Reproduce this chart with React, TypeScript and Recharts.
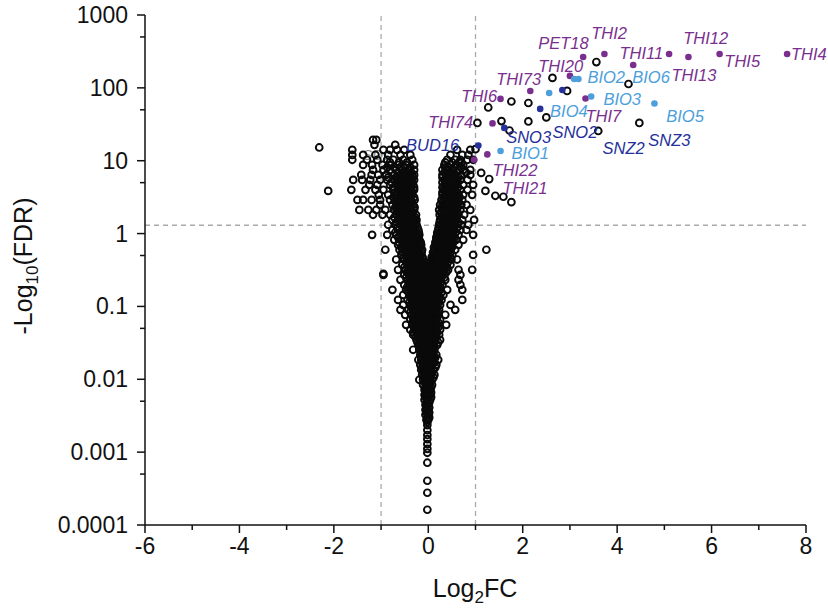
import React from 'react';
import { ScatterChart, Scatter, XAxis, YAxis, ReferenceLine } from 'recharts';

const PURPLE = '#7a2f8f';
const LIGHT = '#4d9fdc';
const NAVY = '#25309b';
const FONT = '"Liberation Sans", Arial, sans-serif';

const xTicks = [-6, -5, -4, -3, -2, -1, 0, 1, 2, 3, 4, 5, 6, 7, 8];
const yMajor = [0.0001, 0.001, 0.01, 0.1, 1, 10, 100, 1000];
const yMajorLabels = ['0.0001', '0.001', '0.01', '0.1', '1', '10', '100', '1000'];
const yMinor = [0.0005, 0.005, 0.05, 0.5, 5, 50, 500];

// bulk of genes: each row is [FDR level, log2FC values at that level]
const cloudRows: [number, number[]][] = [
  [19.3, [-1.17, -1.1]],
  [16.5, [-1.14, -0.7]],
  [14.1, [-1.61, -0.95, -0.81, -0.66, -0.51, 0.61, 0.89]],
  [12.0, [-1.61, -1.38, -1.12, -0.85, -0.59, -0.38, 0.47, 0.72, 0.85]],
  [10.3, [-1.61, -1.3, -1.08, -0.87, -0.74, -0.53, -0.34, 0.4, 0.57, 0.68, 0.83, 0.95]],
  [8.76, [-1.38, -1.19, -0.97, -0.81, -0.64, -0.47, -0.3, 0.34, 0.47, 0.59, 0.74]],
  [7.48, [-1.17, -0.95, -0.81, -0.68, -0.55, -0.42, -0.3, 0.3, 0.42, 0.53, 0.64, 0.74, 0.89]],
  [6.39, [-1.42, -1.2, -1.06, -0.89, -0.72, -0.59, -0.49, -0.38, -0.3, 0.3, 0.38, 0.47, 0.57, 0.7, 0.89]],
  [5.45, [-1.59, -1.4, -1.23, -1.02, -0.87, -0.72, -0.64, -0.55, -0.47, -0.38, -0.3, 0.34, 0.42, 0.51, 0.59, 0.68, 0.83]],
  [4.66, [-1.25, -1.08, -0.81, -0.66, -0.57, -0.49, -0.4, -0.32, 0.34, 0.42, 0.51, 0.61, 0.74, 0.95]],
  [3.98, [-1.63, -1.33, -1.12, -0.95, -0.74, -0.64, -0.55, -0.47, -0.38, -0.3, 0.32, 0.4, 0.49, 0.57, 0.68, 0.83]],
  [3.4, [-1.05, -0.85, -0.68, -0.59, -0.51, -0.42, -0.34, 0.3, 0.38, 0.47, 0.55, 0.64, 0.74, 0.93]],
  [2.9, [-1.5, -1.38, -1.2, -1.02, -0.81, -0.7, -0.61, -0.53, -0.44, -0.36, -0.29, 0.28, 0.36, 0.44, 0.53, 0.61, 0.72]],
  [2.48, [-1.02, -0.76, -0.66, -0.57, -0.49, -0.4, -0.32, 0.25, 0.34, 0.42, 0.51, 0.59, 0.7, 0.81]],
  [2.11, [-1.46, -1.27, -1.1, -0.91, -0.72, -0.64, -0.55, -0.47, -0.38, -0.3, 0.23, 0.32, 0.4, 0.49, 0.57, 0.68, 0.89]],
  [1.81, [-1.17, -0.97, -0.81, -0.68, -0.59, -0.51, -0.42, -0.34, -0.26, 0.24, 0.32, 0.4, 0.48, 0.56, 0.64, 0.76]],
  [1.54, [-0.76, -0.64, -0.55, -0.47, -0.38, -0.3, -0.25, 0.25, 0.34, 0.42, 0.51, 0.59, 0.72, 0.97]],
  [1.32, [-0.85, -0.7, -0.59, -0.51, -0.42, -0.34, -0.25, 0.23, 0.32, 0.4, 0.49, 0.57, 0.7, 0.85]],
  [1.12, [-0.76, -0.64, -0.53, -0.44, -0.36, -0.28, -0.21, 0.21, 0.3, 0.38, 0.47, 0.55, 0.68, 0.81]],
  [0.96, [-1.19, -0.87, -0.68, -0.57, -0.49, -0.4, -0.32, -0.25, -0.19, 0.19, 0.28, 0.36, 0.44, 0.53, 0.64, 0.95]],
  [0.82, [-0.72, -0.59, -0.49, -0.4, -0.32, -0.25, -0.19, 0.17, 0.25, 0.34, 0.42, 0.51, 0.59, 0.74]],
  [0.7, [-0.64, -0.53, -0.44, -0.36, -0.28, -0.21, -0.15, 0.15, 0.23, 0.32, 0.4, 0.49, 0.64]],
  [0.6, [-0.91, -0.61, -0.51, -0.42, -0.34, -0.25, -0.19, -0.13, 0.13, 0.21, 0.3, 0.38, 0.47, 0.57, 1.23]],
  [0.51, [-0.57, -0.47, -0.38, -0.3, -0.21, -0.15, 0.11, 0.17, 0.25, 0.34, 0.42, 0.51, 0.95]],
  [0.44, [-0.68, -0.51, -0.4, -0.32, -0.23, -0.17, -0.11, 0.08, 0.15, 0.23, 0.32, 0.4, 0.49, 0.61]],
  [0.372, [-0.55, -0.44, -0.36, -0.28, -0.19, -0.13, -0.06, 0.06, 0.13, 0.19, 0.28, 0.36, 0.47]],
  [0.318, [-0.64, -0.49, -0.38, -0.3, -0.21, -0.15, -0.08, -0.02, 0.04, 0.11, 0.17, 0.25, 0.34, 0.42, 0.64, 0.93]],
  [0.271, [-0.95, -0.51, -0.4, -0.32, -0.23, -0.17, -0.11, -0.04, 0.02, 0.08, 0.15, 0.23, 0.32, 0.68]],
  [0.232, [-0.59, -0.44, -0.36, -0.28, -0.21, -0.15, -0.08, -0.02, 0.04, 0.11, 0.17, 0.25, 0.36, 0.64]],
  [0.198, [-0.51, -0.4, -0.32, -0.23, -0.17, -0.11, -0.04, 0.02, 0.08, 0.15, 0.21, 0.3, 0.68]],
  [0.169, [-0.76, -0.47, -0.36, -0.28, -0.21, -0.15, -0.08, -0.02, 0.04, 0.11, 0.17, 0.25, 0.4, 0.72]],
  [0.144, [-0.53, -0.4, -0.32, -0.25, -0.19, -0.13, -0.06, 0, 0.06, 0.13, 0.19, 0.32]],
  [0.123, [-0.64, -0.44, -0.34, -0.25, -0.19, -0.13, -0.06, 0, 0.06, 0.13, 0.19, 0.28, 0.72]],
  [0.105, [-0.53, -0.38, -0.3, -0.21, -0.15, -0.08, -0.02, 0.04, 0.11, 0.17, 0.25, 0.47]],
  [0.0898, [-0.59, -0.42, -0.32, -0.23, -0.17, -0.11, -0.04, 0.02, 0.08, 0.15, 0.23, 0.57]],
  [0.0767, [-0.49, -0.36, -0.28, -0.19, -0.13, -0.06, 0, 0.06, 0.13, 0.21, 0.36]],
  [0.0655, [-0.38, -0.3, -0.21, -0.15, -0.08, -0.02, 0.04, 0.11, 0.17, 0.25]],
  [0.0559, [-0.47, -0.34, -0.25, -0.19, -0.13, -0.06, 0, 0.06, 0.13, 0.19, 0.38]],
  [0.0478, [-0.38, -0.28, -0.21, -0.15, -0.08, -0.02, 0.04, 0.11, 0.17, 0.25]],
  [0.0408, [-0.32, -0.23, -0.17, -0.11, -0.04, 0.02, 0.08, 0.15, 0.23]],
  [0.0348, [-0.25, -0.17, -0.11, -0.04, 0.02, 0.08, 0.15, 0.25]],
  [0.0297, [-0.21, -0.15, -0.08, -0.02, 0.04, 0.11, 0.19]],
  [0.0254, [-0.32, -0.19, -0.13, -0.06, 0, 0.06, 0.13]],
  [0.0217, [-0.17, -0.11, -0.04, 0.02, 0.08, 0.17]],
  [0.0185, [-0.21, -0.15, -0.08, -0.02, 0.04, 0.11, 0.21]],
  [0.0158, [-0.17, -0.11, -0.04, 0.02, 0.08, 0.17]],
  [0.0135, [-0.15, -0.08, -0.02, 0.04, 0.11]],
  [0.0115, [-0.13, -0.06, 0, 0.06, 0.13]],
  [0.00984, [-0.19, -0.11, -0.04, 0.02, 0.08]],
  [0.00841, [-0.11, -0.04, 0.02, 0.08]],
  [0.00718, [-0.08, -0.02, 0.04]],
  [0.00613, [-0.08, -0.02, 0.04]],
  [0.00523, [-0.08, -0.02, 0.04]],
  [0.00447, [-0.06, 0]],
  [0.00382, [-0.06, 0]],
  [0.00326, [-0.06, 0]],
  [0.00278, [-0.04, 0]],
];

// the packed (solid black) part of the two arms and the stem, between the rows above
const denseRows: [number, number[]][] = [
  [9.5, [-0.81, -0.62, -0.45, 0.36, 0.51, 0.66]],
  [8.1, [-0.87, -0.72, -0.6, -0.49, -0.38, 0.36, 0.44, 0.55, 0.7]],
  [6.9, [-0.78, -0.64, -0.53, -0.45, -0.36, 0.34, 0.44, 0.51, 0.6, 0.8]],
  [5.9, [-0.85, -0.66, -0.57, -0.49, -0.4, -0.32, 0.3, 0.38, 0.47, 0.55, 0.64]],
  [5.04, [-0.78, -0.68, -0.59, -0.51, -0.43, -0.34, 0.3, 0.38, 0.46, 0.54, 0.62]],
  [4.31, [-0.74, -0.62, -0.53, -0.45, -0.36, -0.3, 0.3, 0.38, 0.46, 0.54, 0.63]],
  [3.68, [-0.7, -0.6, -0.51, -0.43, -0.35, 0.3, 0.38, 0.46, 0.53, 0.6]],
  [3.14, [-0.74, -0.64, -0.55, -0.47, -0.38, -0.3, 0.32, 0.4, 0.49, 0.57, 0.66]],
  [2.68, [-0.68, -0.59, -0.51, -0.42, -0.34, 0.3, 0.38, 0.47, 0.55, 0.64]],
  [2.29, [-0.7, -0.62, -0.53, -0.45, -0.36, -0.29, 0.28, 0.36, 0.44, 0.53, 0.62]],
  [1.95, [-0.66, -0.57, -0.49, -0.4, -0.32, 0.27, 0.36, 0.44, 0.53, 0.62]],
  [1.67, [-0.72, -0.62, -0.53, -0.45, -0.36, -0.28, 0.28, 0.36, 0.44, 0.52, 0.6]],
  [1.42, [-0.68, -0.59, -0.51, -0.42, -0.34, -0.26, 0.24, 0.32, 0.4, 0.48, 0.56, 0.64]],
  [1.22, [-0.66, -0.55, -0.47, -0.38, -0.3, -0.23, 0.22, 0.3, 0.38, 0.46, 0.54, 0.62]],
  [1.035, [-0.7, -0.59, -0.51, -0.42, -0.34, -0.26, -0.2, 0.19, 0.26, 0.34, 0.42, 0.5, 0.58]],
  [0.887, [-0.64, -0.53, -0.45, -0.36, -0.28, -0.21, 0.17, 0.24, 0.32, 0.4, 0.48, 0.56]],
  [0.758, [-0.62, -0.53, -0.44, -0.36, -0.28, -0.21, -0.16, 0.15, 0.21, 0.29, 0.37, 0.45, 0.53]],
  [0.647, [-0.57, -0.47, -0.38, -0.3, -0.23, -0.16, 0.12, 0.19, 0.26, 0.34, 0.42, 0.5]],
  [0.554, [-0.55, -0.45, -0.36, -0.28, -0.21, -0.14, 0.1, 0.16, 0.23, 0.31, 0.39, 0.47]],
  [0.471, [-0.53, -0.44, -0.34, -0.27, -0.19, -0.12, 0.07, 0.13, 0.21, 0.3, 0.38, 0.47]],
  [0.407, [-0.47, -0.38, -0.3, -0.21, -0.15, -0.09, 0.04, 0.11, 0.17, 0.25, 0.34, 0.42]],
  [0.344, [-0.51, -0.42, -0.34, -0.26, -0.19, -0.11, -0.04, 0.02, 0.08, 0.15, 0.23, 0.32, 0.4]],
  [0.294, [-0.45, -0.36, -0.28, -0.21, -0.13, -0.06, 0, 0.06, 0.13, 0.21, 0.3, 0.38]],
  [0.25, [-0.47, -0.38, -0.3, -0.23, -0.15, -0.09, -0.02, 0.04, 0.11, 0.19, 0.27, 0.34]],
  [0.214, [-0.42, -0.34, -0.26, -0.19, -0.13, -0.06, 0, 0.06, 0.13, 0.19, 0.27]],
  [0.183, [-0.45, -0.38, -0.3, -0.23, -0.15, -0.09, -0.02, 0.04, 0.11, 0.17, 0.25]],
  [0.156, [-0.42, -0.34, -0.26, -0.19, -0.13, -0.06, 0, 0.06, 0.13, 0.21, 0.28]],
  [0.133, [-0.38, -0.3, -0.23, -0.17, -0.09, -0.02, 0.04, 0.11, 0.17, 0.25]],
  [0.114, [-0.4, -0.32, -0.25, -0.17, -0.11, -0.04, 0.02, 0.08, 0.15, 0.23]],
  [0.097, [-0.36, -0.28, -0.21, -0.15, -0.08, -0.02, 0.04, 0.11, 0.19]],
  [0.083, [-0.38, -0.3, -0.23, -0.17, -0.11, -0.04, 0.02, 0.09, 0.15, 0.21]],
  [0.0709, [-0.32, -0.25, -0.19, -0.13, -0.06, 0, 0.06, 0.13, 0.19]],
  [0.0605, [-0.34, -0.26, -0.19, -0.13, -0.06, 0, 0.06, 0.13, 0.21]],
  [0.0517, [-0.3, -0.23, -0.17, -0.11, -0.04, 0.02, 0.08, 0.15, 0.21]],
  [0.0442, [-0.32, -0.25, -0.19, -0.13, -0.06, 0, 0.06, 0.13, 0.19]],
  [0.0377, [-0.27, -0.21, -0.15, -0.09, -0.02, 0.04, 0.11, 0.17]],
  [0.0322, [-0.23, -0.17, -0.11, -0.06, 0, 0.06, 0.13, 0.21]],
  [0.0274, [-0.19, -0.13, -0.06, 0, 0.06, 0.13]],
  [0.0235, [-0.15, -0.09, -0.02, 0.04, 0.11]],
  [0.02, [-0.15, -0.08, -0.02, 0.04, 0.11, 0.15]],
  [0.0171, [-0.13, -0.06, 0, 0.06, 0.13]],
  [0.0146, [-0.13, -0.06, 0, 0.06, 0.15]],
  [0.0125, [-0.11, -0.04, 0.02, 0.08]],
  [0.0106, [-0.09, -0.02, 0.04, 0.11]],
  [0.0091, [-0.08, -0.02, 0.04]],
  [0.0078, [-0.06, 0, 0.06]],
  [0.0066, [-0.06, 0, 0.06]],
  [0.0057, [-0.06, 0, 0.06]],
  [0.0048, [-0.04, 0.02]],
  [0.0041, [-0.04, 0.02]],
  [0.0035, [-0.04, 0.02]],
  [0.003, [-0.02, 0.02]],
];

// tail of the stem near log2FC = 0
const stemFdr = [0.0026, 0.00235, 0.00201, 0.00172, 0.00151, 0.00129, 0.00111, 0.00098, 0.000716, 0.000405, 0.000277, 0.000162];

// unlabelled genes outside the cloud: [log2FC, FDR]
const openOutliers: [number, number][] = [
  [3.56, 226], [2.63, 137], [4.24, 113], [2.94, 90.7], [1.76, 65], [2.12, 62], [1.27, 53.8],
  [2.5, 39.3], [2.12, 34.6], [1.55, 35], [1.04, 33], [1.72, 26], [3.6, 25.6], [4.47, 33],
  [1.0, 14.4], [0.7, 9.3], [1.12, 6.8], [1.29, 5.6], [1.21, 3.85], [1.42, 3.3], [1.59, 3.2],
  [1.76, 2.7], [-2.31, 15.2], [-2.12, 3.85], [-0.95, 0.28],
];

// highlighted genes: [log2FC, FDR]
const thiDots: [number, number][] = [
  [7.6, 292], [6.17, 292], [5.51, 265], [5.1, 292], [4.34, 206], [3.73, 292], [3.28, 265],
  [3.0, 146], [2.16, 90.7], [1.53, 70.5], [3.33, 71.6], [1.36, 32.5], [1.25, 12.2], [0.97, 10.3],
];
const bioDots: [number, number][] = [
  [3.09, 132], [3.18, 132], [2.56, 85], [3.45, 76], [4.79, 61], [1.53, 13.6],
];
const navyDots: [number, number][] = [
  [2.84, 93.6], [2.37, 51.4], [1.61, 28.2], [1.06, 16.2],
];

// gene names: [name, log2FC, FDR] of the text start
const thiLabels: [string, number, number][] = [
  ['THI4', 7.68, 292], ['THI5', 6.27, 234], ['THI12', 5.4, 483], ['THI11', 4.05, 301],
  ['THI13', 5.15, 150], ['THI2', 3.45, 566], ['PET18', 2.33, 413], ['THI20', 2.33, 200],
  ['THI73', 1.44, 132], ['THI6', 0.7, 77.4], ['THI7', 3.33, 41.2], ['THI74', 0.0, 34],
  ['THI22', 1.36, 7.48], ['THI21', 1.57, 4.24],
];
const bioLabels: [string, number, number][] = [
  ['BIO2', 3.37, 141], ['BIO6', 4.32, 141], ['BIO3', 3.71, 70.5], ['BIO4', 2.58, 48.2],
  ['BIO5', 5.04, 41.2], ['BIO1', 1.76, 12.8],
];
const navyLabels: [string, number, number][] = [
  ['SNO3', 1.65, 21.2], ['SNO2', 2.63, 24.8], ['SNZ2', 3.69, 15.0], ['SNZ3', 4.66, 19.3],
  ['BUD16', -0.47, 16.5],
];
const hiddenLabels: [string, number, number][] = [['SDL', -1.4, 12.0]];

const cloud = [
  ...cloudRows.flatMap(([fdr, xs]) => xs.map((fc) => ({ fc, fdr }))),
  ...denseRows.flatMap(([fdr, xs]) => xs.map((fc) => ({ fc, fdr }))),
  ...stemFdr.map((fdr) => ({ fc: -0.02, fdr })),
  ...openOutliers.map(([fc, fdr]) => ({ fc, fdr })),
];
const toPts = (a: [number, number][]) => a.map(([fc, fdr]) => ({ fc, fdr }));
const toLabels = (a: [string, number, number][]) => a.map(([name, fc, fdr]) => ({ name, fc, fdr }));

const openCircle = (p: any) => (
  <circle cx={p.cx} cy={p.cy} r={3.4} fill="none" stroke="#0a0a0a" strokeWidth={1.9} />
);
const dot = (color: string) => (p: any) => <circle cx={p.cx} cy={p.cy} r={3.3} fill={color} />;
const label = (color: string, size = 16.5) => (p: any) => (
  <text x={p.cx} y={p.cy} fill={color} fontSize={size} fontStyle="italic" fontFamily={FONT} dominantBaseline="central">
    {p.payload.name}
  </text>
);

const XTick = ({ x, y, payload }: any) => {
  const major = payload.value % 2 === 0;
  return (
    <g>
      <line x1={x} x2={x} y1={y} y2={y + (major ? 8 : 5)} stroke="#111" strokeWidth={1.5} />
      {major && (
        <text x={x} y={y + 29} textAnchor="middle" fontSize={23} fontFamily={FONT} fill="#111">
          {payload.value}
        </text>
      )}
    </g>
  );
};

const YTick = ({ x, y, payload }: any) => {
  const i = yMajor.indexOf(payload.value);
  const major = i >= 0;
  return (
    <g>
      <line x1={x - (major ? 8 : 5)} x2={x} y1={y} y2={y} stroke="#111" strokeWidth={1.5} />
      {major && (
        <text x={x - 17} y={y} textAnchor="end" dominantBaseline="central" fontSize={23} fontFamily={FONT} fill="#111">
          {yMajorLabels[i]}
        </text>
      )}
    </g>
  );
};

export default function App() {
  return (
    <div>
      <style>{'body{margin:0;overflow:hidden}'}</style>
      <ScatterChart width={828} height={609} margin={{ top: 15, right: 22, left: 0, bottom: 0 }}>
        <XAxis
          type="number"
          dataKey="fc"
          domain={[-6, 8]}
          ticks={xTicks}
          interval={0}
          tickSize={0}
          tickMargin={0}
          tickLine={false}
          tick={<XTick />}
          height={84}
          stroke="#111"
          strokeWidth={1.5}
          label={{
            content: () => (
              <text x={475} y={597} textAnchor="middle" fontSize={25} fontFamily={FONT} fill="#111">
                Log<tspan dy={6} fontSize={17}>2</tspan><tspan dy={-6}>FC</tspan>
              </text>
            ),
          }}
        />
        <YAxis
          type="number"
          dataKey="fdr"
          scale="log"
          domain={[0.0001, 1000]}
          ticks={[...yMajor, ...yMinor]}
          interval={0}
          tickSize={0}
          tickMargin={0}
          tickLine={false}
          tick={<YTick />}
          width={145}
          stroke="#111"
          strokeWidth={1.5}
          label={{
            content: () => (
              <text x={32} y={266} transform="rotate(-90 32 266)" textAnchor="middle" fontSize={25} fontFamily={FONT} fill="#111">
                -Log<tspan dy={6} fontSize={17}>10</tspan><tspan dy={-6}>(FDR)</tspan>
              </text>
            ),
          }}
        />
        <ReferenceLine x={-1} stroke="#aaa" strokeWidth={1.3} strokeDasharray="5 4" />
        <ReferenceLine x={1} stroke="#aaa" strokeWidth={1.3} strokeDasharray="5 4" />
        <ReferenceLine y={1.301} stroke="#aaa" strokeWidth={1.3} strokeDasharray="5 4" />
        <Scatter data={toLabels(hiddenLabels)} shape={label('#888', 15)} isAnimationActive={false} />
        <Scatter data={cloud} shape={openCircle} isAnimationActive={false} />
        <Scatter data={toPts(thiDots)} shape={dot(PURPLE)} isAnimationActive={false} />
        <Scatter data={toPts(bioDots)} shape={dot(LIGHT)} isAnimationActive={false} />
        <Scatter data={toPts(navyDots)} shape={dot(NAVY)} isAnimationActive={false} />
        <Scatter data={toLabels(thiLabels)} shape={label(PURPLE)} isAnimationActive={false} />
        <Scatter data={toLabels(bioLabels)} shape={label(LIGHT)} isAnimationActive={false} />
        <Scatter data={toLabels(navyLabels)} shape={label(NAVY)} isAnimationActive={false} />
      </ScatterChart>
    </div>
  );
}
